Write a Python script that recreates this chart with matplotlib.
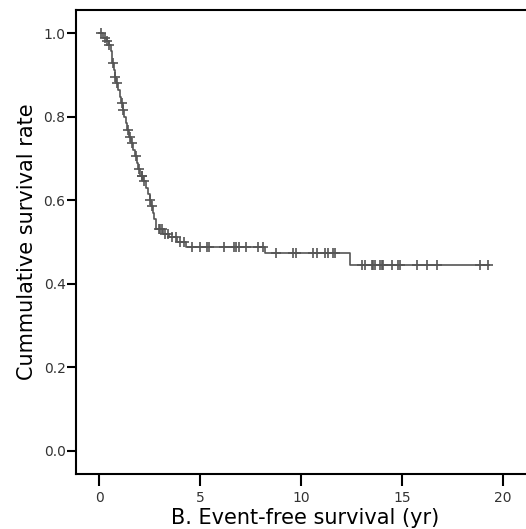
import numpy as np
from matplotlib import pyplot as plt

# Kaplan-Meier step levels (time in years, survival after the step)
step_t = [0, 0.22, 0.40, 0.48, 0.60, 0.66, 0.72, 0.80, 0.86, 0.95, 1.02, 1.10,
          1.17, 1.25, 1.33, 1.40, 1.50, 1.58, 1.68, 1.76, 1.86, 1.95, 2.02,
          2.18, 2.30, 2.42, 2.50, 2.58, 2.66, 2.74, 2.82, 3.15, 3.45, 3.85,
          4.30, 8.20, 12.40]
step_s = [1.0, 0.987, 0.980, 0.971, 0.958, 0.929, 0.911, 0.896, 0.880, 0.864,
          0.848, 0.832, 0.816, 0.800, 0.784, 0.768, 0.752, 0.736, 0.720, 0.705,
          0.690, 0.674, 0.658, 0.645, 0.630, 0.614, 0.600, 0.585, 0.570, 0.555,
          0.530, 0.520, 0.512, 0.500, 0.487, 0.473, 0.446]
t_end = 19.3

# censored observations
censor_t = [0.08, 0.3, 0.41, 0.51, 0.71, 0.81, 0.9, 1.12, 1.2, 1.42, 1.53, 1.62,
            1.83, 2.0, 2.11, 2.15, 2.23, 2.52, 2.6, 2.95, 3.02, 3.1, 3.27, 3.4,
            3.6, 3.8, 4.0, 4.2, 4.59, 5.0, 5.33, 5.45, 6.19, 6.68, 6.8, 6.95,
            7.28, 7.89, 8.1, 8.76, 9.62, 9.75, 10.58, 10.78, 11.19, 11.32, 11.6,
            11.7, 13.0, 13.17, 13.5, 13.58, 13.66, 13.9, 14.0, 14.07, 14.5,
            14.82, 14.9, 15.76, 16.25, 16.75, 18.86, 19.27]

xticks = [0, 5, 10, 15, 20]
yticks = [0.0, 0.2, 0.4, 0.6, 0.8, 1.0]

col = "#555555"

fig = plt.figure(figsize=(5.26, 5.29), dpi=100)
ax = fig.add_axes([0.1445, 0.104, 0.87, 0.877])

ax.step(step_t + [t_end], step_s + [step_s[-1]], where="post", color=col, lw=1.2)
idx = np.searchsorted(step_t, censor_t, side="right") - 1
cs = np.array(step_s)[idx]
ax.plot(censor_t, cs, "+", color=col, ms=7, mew=1.2)

ax.set_xlim(-1.14, 21.51)
ax.set_ylim(-0.055, 1.055)
ax.set_xticks(xticks)
ax.set_yticks(yticks)
ax.set_yticklabels(["%.1f" % v for v in yticks])

for s in ["left", "top", "bottom"]:
    ax.spines[s].set_linewidth(1.5)
ax.spines["right"].set_visible(False)
ax.tick_params(axis="x", length=8.6, width=1.5, pad=4, labelsize=10, labelcolor="#333333")
ax.tick_params(axis="y", length=6.5, width=1.5, pad=1, labelsize=10, labelcolor="#333333")

ax.set_xlabel("B. Event-free survival (yr)", fontsize=15, labelpad=2)
ax.set_ylabel("Cummulative survival rate", fontsize=15, labelpad=5)

plt.savefig("out.png", dpi=100)
